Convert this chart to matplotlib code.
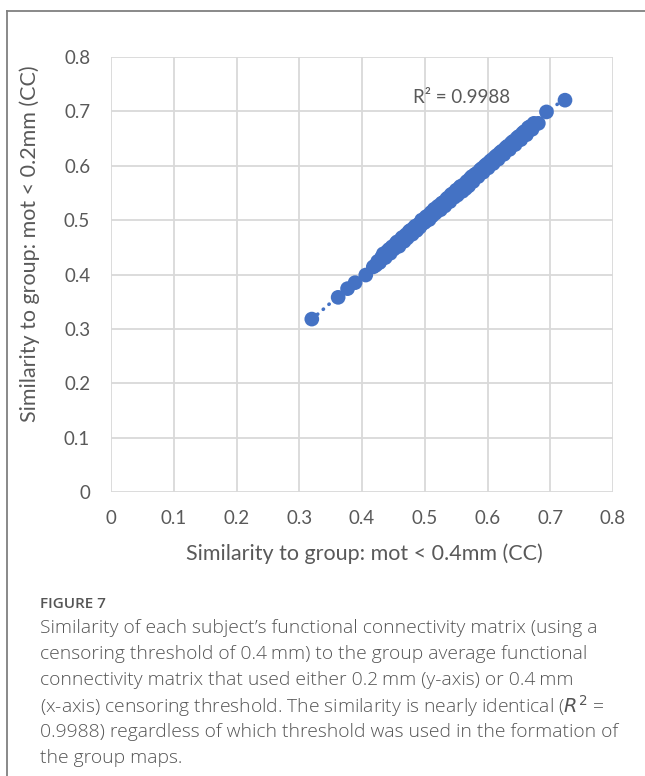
#!/usr/bin/env python3
"""Subject-to-group FC similarity: 0.2 mm vs 0.4 mm censoring threshold."""
import numpy as np
import matplotlib
matplotlib.use("Agg")
import matplotlib.pyplot as plt
from matplotlib.lines import Line2D

# similarity to the 0.4 mm group map (x) and to the 0.2 mm group map (y), per subject
sim_04mm = [
    0.320, 0.362, 0.377, 0.389, 0.406, 0.418,
    0.422, 0.425, 0.428, 0.431, 0.434, 0.437, 0.440, 0.443, 0.445, 0.448,
    0.451, 0.454, 0.456, 0.459, 0.462, 0.464, 0.467, 0.470, 0.472, 0.475,
    0.477, 0.480, 0.482, 0.485, 0.487, 0.490, 0.492, 0.495, 0.497, 0.500,
    0.502, 0.505, 0.507, 0.510, 0.512, 0.515, 0.517, 0.520, 0.522, 0.525,
    0.527, 0.530, 0.532, 0.535, 0.537, 0.540, 0.542, 0.545, 0.547, 0.550,
    0.552, 0.555, 0.557, 0.560, 0.562, 0.565, 0.567, 0.570, 0.572, 0.575,
    0.577, 0.580, 0.583, 0.585, 0.588, 0.591, 0.593, 0.596, 0.599, 0.601,
    0.604, 0.607, 0.609, 0.612, 0.615, 0.617, 0.620, 0.623, 0.626, 0.629,
    0.632, 0.635, 0.638, 0.641, 0.644, 0.647, 0.650, 0.653, 0.656, 0.659,
    0.662, 0.665, 0.668, 0.671, 0.674, 0.681, 0.694, 0.7235,
]
sim_02mm = [
    0.318, 0.358, 0.374, 0.385, 0.399, 0.414,
    0.417, 0.424, 0.422, 0.431, 0.438, 0.431, 0.442, 0.446, 0.439, 0.451,
    0.447, 0.457, 0.460, 0.452, 0.464, 0.468, 0.461, 0.473, 0.467, 0.479,
    0.481, 0.474, 0.485, 0.489, 0.481, 0.492, 0.487, 0.500, 0.494, 0.496,
    0.506, 0.508, 0.501, 0.514, 0.508, 0.520, 0.513, 0.524, 0.526, 0.519,
    0.531, 0.533, 0.526, 0.539, 0.541, 0.534, 0.547, 0.549, 0.542, 0.555,
    0.546, 0.559, 0.562, 0.553, 0.565, 0.558, 0.571, 0.563, 0.576, 0.580,
    0.571, 0.584, 0.586, 0.580, 0.592, 0.595, 0.588, 0.600, 0.603, 0.596,
    0.608, 0.611, 0.604, 0.616, 0.619, 0.612, 0.624, 0.627, 0.621, 0.633,
    0.636, 0.630, 0.642, 0.645, 0.639, 0.651, 0.654, 0.648, 0.660, 0.663,
    0.657, 0.670, 0.672, 0.667, 0.678, 0.678, 0.699, 0.7206,
]
ticks = [0, 0.1, 0.2, 0.3, 0.4, 0.5, 0.6, 0.7, 0.8]
r2_label = "R\u00b2 = 0.9988"

caption_head = "FIGURE 7"
caption_lines = [
    "Similarity of each subject\u2019s functional connectivity matrix (using a",
    "censoring threshold of 0.4\u2009mm) to the group average functional",
    "connectivity matrix that used either 0.2\u2009mm (y-axis) or 0.4\u2009mm",
    "(x-axis) censoring threshold. The similarity is nearly identical ($R^2$ =",
    "0.9988) regardless of which threshold was used in the formation of",
    "the group maps.",
]

BLUE = "#4472C4"
GREY_TXT = "#595959"
GRID = "#D9D9D9"

plt.rcParams["font.family"] = ["Lato", "DejaVu Sans"]

W, H = 645, 776
fig = plt.figure(figsize=(W / 100, H / 100), dpi=100)
ax = fig.add_axes([111 / W, 1 - 492 / H, 502 / W, 435 / H])

x = np.array(sim_04mm)
y = np.array(sim_02mm)

# linear trendline over the data range
slope, intercept = np.polyfit(x, y, 1)
xt = np.array([x.min(), x.max()])
ax.plot(xt, slope * xt + intercept, color=BLUE, lw=2.6,
        linestyle=(0, (0.1, 2.0)), dash_capstyle="round", zorder=2)
ax.scatter(x, y, s=112, color=BLUE, edgecolors="none", zorder=3)

ax.set_xlim(0, 0.8)
ax.set_ylim(0, 0.8)
ax.set_xticks(ticks)
ax.set_yticks(ticks)
ax.set_xticklabels([f"{t:g}" for t in ticks])
ax.set_yticklabels([f"{t:g}" for t in ticks])
ax.grid(True, color=GRID, lw=1.3)
ax.set_axisbelow(True)
for sp in ax.spines.values():
    sp.set_visible(False)
ax.tick_params(length=0, labelsize=13.5, labelcolor=GREY_TXT)
ax.tick_params(axis="x", pad=13)
ax.tick_params(axis="y", pad=15)

ax.set_xlabel("Similarity to group: mot < 0.4mm (CC)", fontsize=15.5,
              color=GREY_TXT)
ax.xaxis.set_label_coords(0.505, -0.118)
ax.set_ylabel("Similarity to group: mot < 0.2mm (CC)", fontsize=15.5,
              color=GREY_TXT)
ax.yaxis.set_label_coords(-0.142, 0.57)

ax.text(0.558, 0.726, r2_label, fontsize=13.5, color=GREY_TXT,
        ha="center", va="center")

# frame around the figure panel (top and left edges only)
fig.add_artist(Line2D([7 / W, 7 / W], [0, 1 - 11 / H], color="#808080",
                      lw=1.3, transform=fig.transFigure))
fig.add_artist(Line2D([7 / W, 1], [1 - 11 / H, 1 - 11 / H], color="#808080",
                      lw=1.3, transform=fig.transFigure))

fig.text(40 / W, 1 - 604 / H, caption_head, fontsize=11, color="#555555",
         family=["Open Sans", "DejaVu Sans"], weight="semibold", va="center")
for i, line in enumerate(caption_lines):
    fig.text(40 / W, 1 - (628 + 26 * i) / H, line, fontsize=13.9,
             color="#555555", family=["Open Sans", "DejaVu Sans"],
             weight="light", va="center")

fig.savefig("out.png", dpi=100)
